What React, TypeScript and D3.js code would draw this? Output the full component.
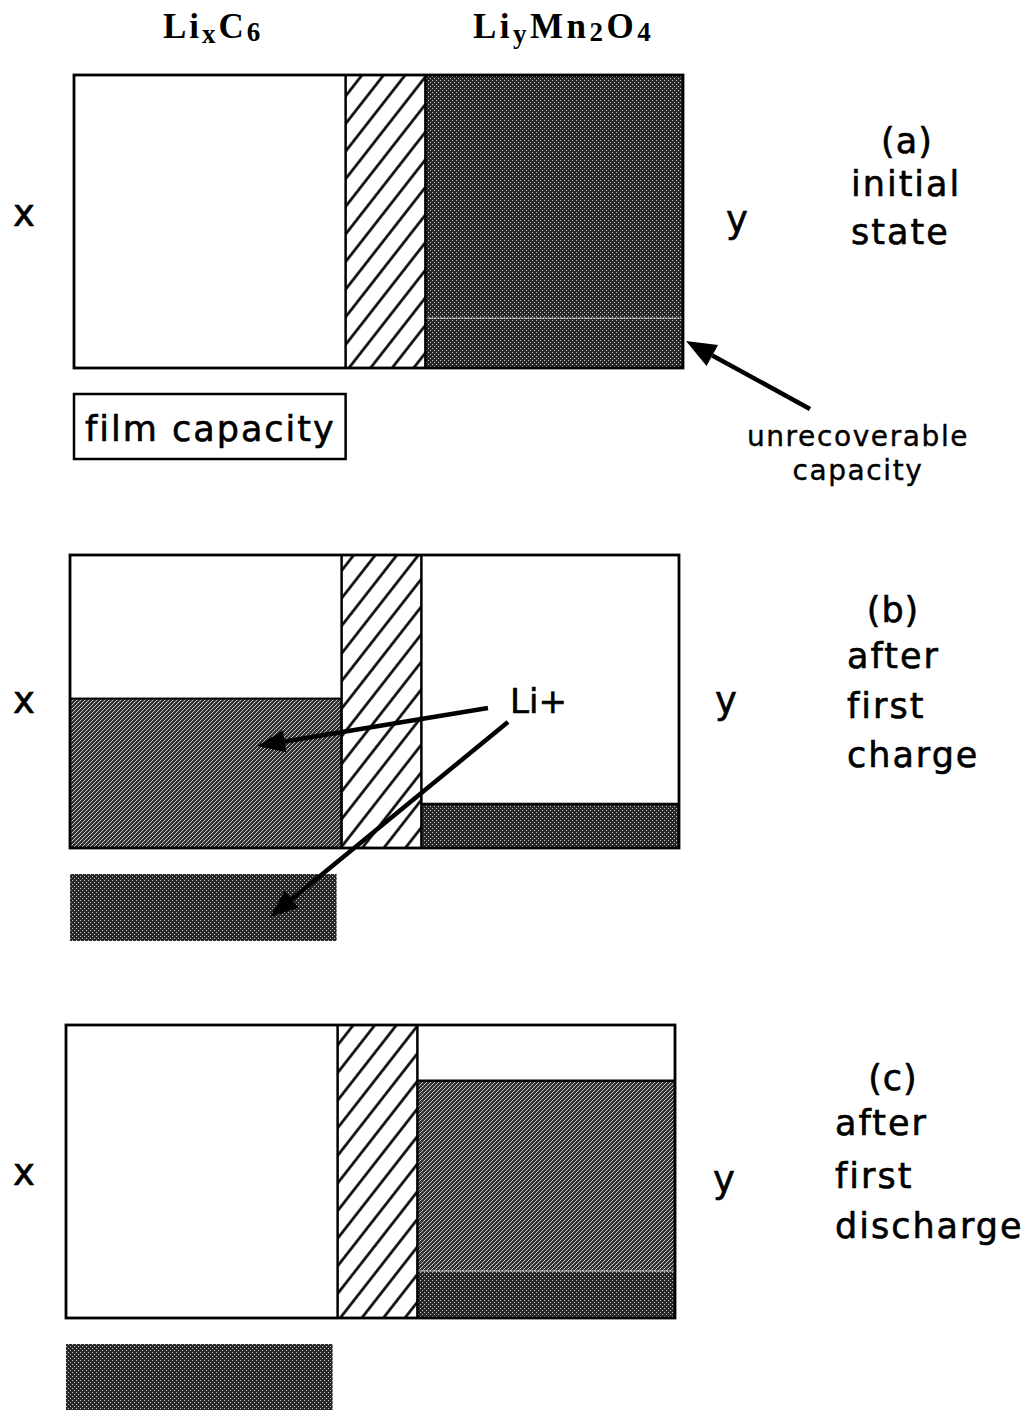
import React from "react";
import * as d3 from "d3";

// ---- data (fractions of each electrode's capacity) ----
const states = ["(a)", "(b)", "(c)"];
const stateLines = [
  ["initial", "state"],
  ["after", "first", "charge"],
  ["after", "first", "discharge"],
];
const anodeLithiated = [0, 0.51, 0]; // Li in LixC6
const cathodeLithiated = [1.0, 0.15, 0.81]; // Li in LiyMn2O4
const unrecoverable = [0.17, 0.15, 0.16]; // unrecoverable capacity
const filmFilled = [0, 1, 1]; // film capacity consumed

// ---- layout ----
const W = 1031;
const H = 1410;
const panelLeft = [74, 70, 66];
const panelTop = [75, 555, 1025];
const panelW = 609;
const panelH = 293;
const sepStart = 0.446;
const sepEnd = 0.577;
const font = "'DejaVu Sans', Verdana, sans-serif";
const titleX = [851, 847, 835];
const parenX = [907, 893, 893];
const parenY = [153, 622, 1090];
const lineY = [[196, 244], [668, 718, 767], [1135, 1188, 1238]];
const xLabelY = [226, 713, 1185];
const yLabelX = [737, 726, 724];
const yLabelY = [232, 713, 1192];

const txt = { fontFamily: font, stroke: "#000", strokeWidth: 0.6 };

function Arrow({ x1, y1, x2, y2, w = 4, len = 28, half = 11 }) {
  const a = Math.atan2(y2 - y1, x2 - x1);
  const bx = x2 - len * Math.cos(a);
  const by = y2 - len * Math.sin(a);
  const px = -Math.sin(a) * half;
  const py = Math.cos(a) * half;
  return (
    <g>
      <line x1={x1} y1={y1} x2={bx} y2={by} stroke="#000" strokeWidth={w} />
      <polygon
        points={`${x2},${y2} ${bx + px},${by + py} ${bx - px},${by - py}`}
        fill="#000"
      />
    </g>
  );
}

function Panel({ i }) {
  const left = panelLeft[i];
  const top = panelTop[i];
  const x = d3.scaleLinear().domain([0, 1]).range([left, left + panelW]);
  const y = d3.scaleLinear().domain([0, 1]).range([top + panelH, top]);
  const xs = x(sepStart);
  const xe = x(sepEnd);
  const xr = x(1);
  const bottom = y(0);
  const filmTop = bottom + 26;
  const filmH = 67;
  return (
    <g>
      <rect x={left} y={top} width={panelW} height={panelH} fill="#fff" />
      {anodeLithiated[i] > 0 && (
        <rect
          x={left}
          y={y(anodeLithiated[i])}
          width={xs - left}
          height={bottom - y(anodeLithiated[i])}
          fill="url(#stMid)"
          stroke="#000"
          strokeWidth={2}
        />
      )}
      <rect x={xs} y={top} width={xe - xs} height={panelH} fill="url(#hatch)" />
      {cathodeLithiated[i] > unrecoverable[i] && (
        <rect
          x={xe}
          y={y(cathodeLithiated[i])}
          width={xr - xe}
          height={y(unrecoverable[i]) - y(cathodeLithiated[i])}
          fill={i === 0 ? "url(#stDark)" : "url(#stMid)"}
        />
      )}
      <rect
        x={xe}
        y={y(unrecoverable[i])}
        width={xr - xe}
        height={bottom - y(unrecoverable[i])}
        fill="url(#stDark)"
      />
      {cathodeLithiated[i] > unrecoverable[i] && (
        <line
          x1={xe}
          x2={xr}
          y1={y(unrecoverable[i])}
          y2={y(unrecoverable[i])}
          stroke="#cfcfcf"
          strokeWidth={1.5}
          strokeDasharray="2 1"
        />
      )}
      {cathodeLithiated[i] < 1 && (
        <line x1={xe} x2={xr} y1={y(cathodeLithiated[i])} y2={y(cathodeLithiated[i])} stroke="#000" strokeWidth={2.5} />
      )}
      <line x1={xs} x2={xs} y1={top} y2={bottom} stroke="#000" strokeWidth={2.5} />
      <line x1={xe} x2={xe} y1={top} y2={bottom} stroke="#000" strokeWidth={2.5} />
      <rect x={left} y={top} width={panelW} height={panelH} fill="none" stroke="#000" strokeWidth={2.8} />
      {/* film capacity */}
      {filmFilled[i] > 0 ? (
        <rect x={left} y={filmTop} width={xs - left - 5} height={filmH} fill="url(#stDark)" />
      ) : (
        <g>
          <rect x={left} y={filmTop} width={xs - left} height={filmH - 2} fill="#fff" stroke="#000" strokeWidth={2.5} />
          <text x={left + 11} y={filmTop + 47} {...txt} fontSize={35} letterSpacing={2}>
            film  capacity
          </text>
        </g>
      )}
      {/* labels */}
      <text x={24} y={xLabelY[i]} textAnchor="middle" {...txt} fontSize={37}>x</text>
      <text x={yLabelX[i]} y={yLabelY[i]} textAnchor="middle" {...txt} fontSize={37}>y</text>
      <text x={parenX[i]} y={parenY[i]} textAnchor="middle" {...txt} fontSize={35} letterSpacing={1}>
        {states[i]}
      </text>
      {stateLines[i].map((t, k) => (
        <text key={k} x={titleX[i]} y={lineY[i][k]} {...txt} fontSize={35} letterSpacing={2}>
          {t}
        </text>
      ))}
    </g>
  );
}

export default function App() {
  const hf = "'Liberation Serif', 'Times New Roman', serif";
  return (
    <svg
      width={W}
      height={H}
      style={{ position: "absolute", left: 0, top: 0, background: "#fff" }}
    >
      <defs>
        <pattern id="stDark" width={4} height={4} patternUnits="userSpaceOnUse">
          <rect width={4} height={4} fill="#282828" />
          <rect x={0} y={0} width={1} height={1} fill="#c8c8c8" />
          <rect x={2} y={2} width={1} height={1} fill="#c8c8c8" />
        </pattern>
        <pattern id="stMid" width={4} height={4} patternUnits="userSpaceOnUse">
          <rect width={4} height={4} fill="#343434" />
          <rect x={0} y={0} width={1} height={1} fill="#d4d4d4" />
          <rect x={2} y={2} width={1} height={1} fill="#d4d4d4" />
          <rect x={1} y={3} width={1} height={1} fill="#b4b4b4" />
          <rect x={3} y={1} width={1} height={1} fill="#b4b4b4" />
        </pattern>
        <pattern id="hatch" width={17} height={17} patternUnits="userSpaceOnUse" patternTransform="rotate(38)">
          <rect width={17} height={17} fill="#fff" />
          <line x1={8.5} y1={-2} x2={8.5} y2={19} stroke="#000" strokeWidth={2.6} />
        </pattern>
      </defs>
      <rect width={W} height={H} fill="#fff" />

      {/* headers */}
      <text x={163} y={38} fontFamily={hf} fontWeight="bold" fontSize={35} letterSpacing={3}>
        Li<tspan fontSize={27} dy={5}>x</tspan>
        <tspan fontSize={35} dy={-5}>C</tspan>
        <tspan fontSize={27} dy={3}>6</tspan>
      </text>
      <text x={473} y={38} fontFamily={hf} fontWeight="bold" fontSize={35} letterSpacing={3.5}>
        Li<tspan fontSize={27} dy={5}>y</tspan>
        <tspan fontSize={35} dy={-5}>Mn</tspan>
        <tspan fontSize={27} dy={3}>2</tspan>
        <tspan fontSize={35} dy={-3}>O</tspan>
        <tspan fontSize={27} dy={3}>4</tspan>
      </text>

      {states.map((_, i) => (
        <Panel key={i} i={i} />
      ))}

      {/* annotations */}
      <Arrow x1={810} y1={409} x2={686} y2={341} w={4.5} len={30} half={12} />
      <text x={858} y={446} textAnchor="middle" {...txt} strokeWidth={0.4} fontSize={28} letterSpacing={1.6}>
        unrecoverable
      </text>
      <text x={858} y={480} textAnchor="middle" {...txt} strokeWidth={0.4} fontSize={28} letterSpacing={1.6}>
        capacity
      </text>

      <text x={510} y={713} {...txt} fontSize={34}>Li+</text>
      <Arrow x1={488} y1={708} x2={257} y2={746} w={4.5} len={28} half={11} />
      <Arrow x1={508} y1={722} x2={270} y2={917} w={4.5} len={28} half={11} />
    </svg>
  );
}
